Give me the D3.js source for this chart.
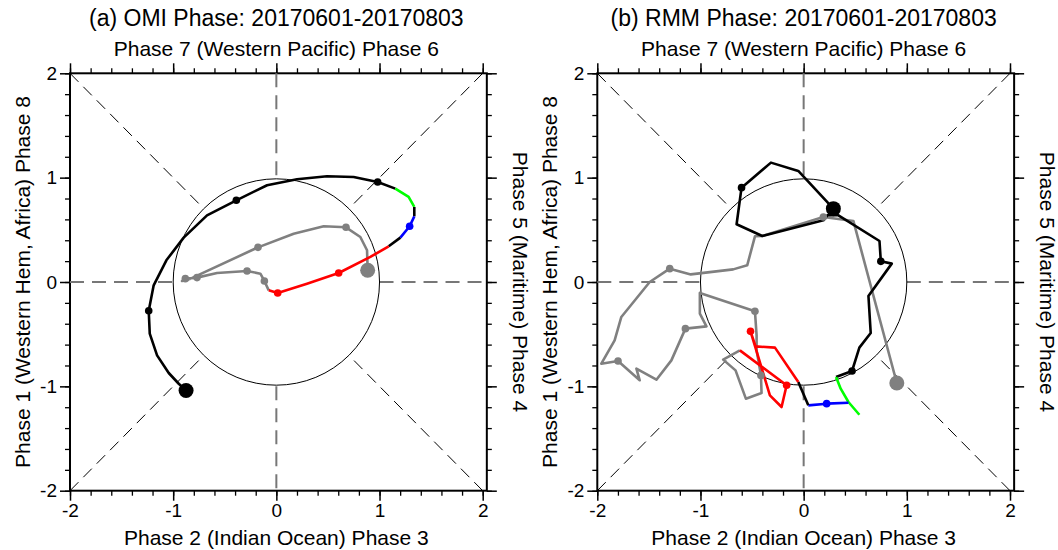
<!DOCTYPE html>
<html>
<head>
<meta charset="utf-8">
<script src="https://cdn.jsdelivr.net/npm/d3@7"></script>
<style>
  body { margin: 0; background: #fff; }
  text { font-family: "Liberation Sans", Arial, Helvetica, sans-serif; fill: #000; }
</style>
</head>
<body>
<div id="chart"></div>
<script>
// tick values
let majorTicks = [-2, -1, 0, 1, 2];
let minorTicks = d3.range(-2, 2.01, 0.2).map((d) => +d.toFixed(1));

// (a) OMI trajectory, one array per coloured piece
let omiBlack1 = [[-0.875,-1.04],[-0.946,-0.975],[-1.043,-0.872],[-1.156,-0.703],[-1.227,-0.495],[-1.237,-0.275],[-1.189,-0.032],[-1.066,0.208],[-0.898,0.425],[-0.672,0.639],[-0.388,0.783],[-0.09,0.927],[0.2,0.984],[0.491,1.013],[0.749,1.006],[0.982,0.958],[1.153,0.895]];
let omiGreen = [[1.153,0.895],[1.282,0.815],[1.337,0.719]];
let omiBlack2 = [[1.337,0.719],[1.337,0.629]];
let omiBlue = [[1.337,0.629],[1.292,0.534],[1.202,0.425]];
let omiBlack3 = [[1.202,0.425],[1.089,0.342]];
let omiRed = [[1.089,0.342],[0.911,0.24],[0.604,0.086],[0.297,-0.016],[0.013,-0.105],[-0.074,-0.08]];
let omiGray = [[-0.074,-0.08],[-0.116,0.01],[-0.155,0.08],[-0.284,0.105],[-0.575,0.086],[-0.769,0.042],[-0.882,0.032],[-0.914,0.01],[-0.831,0.032],[-0.178,0.332],[0.168,0.463],[0.459,0.534],[0.675,0.524],[0.814,0.431],[0.879,0.304],[0.885,0.112]];
let omiBlackDots = [[-1.237,-0.275],[-0.388,0.783],[0.982,0.958]];
let omiBlueDots = [[1.292,0.534]];
let omiRedDots = [[0.604,0.086],[0.013,-0.105]];
let omiGrayDots = [[-0.116,0.01],[-0.284,0.105],[-0.769,0.042],[-0.882,0.032],[-0.178,0.332],[0.675,0.524]];
let omiStart = [-0.875,-1.04];
let omiEnd = [0.885,0.112];

// (b) RMM trajectory
let rmmBlack1 = [[0.288,0.703],[-0.052,1.064],[-0.317,1.144],[-0.602,0.904],[-0.65,0.553],[-0.401,0.441],[0.191,0.591],[0.23,0.639],[0.337,0.639],[0.735,0.393],[0.748,0.198],[0.854,0.176],[0.628,-0.134],[0.65,-0.489],[0.54,-0.629],[0.469,-0.853],[0.314,-0.911]];
let rmmGreen = [[0.314,-0.911],[0.359,-1.022],[0.434,-1.15],[0.54,-1.272]];
let rmmBlue = [[0.434,-1.157],[0.223,-1.166],[0.045,-1.182]];
let rmmBlack2 = [[0.045,-1.182],[-0.052,-0.958]];
let rmmRed = [[-0.052,-0.958],[-0.278,-0.629],[-0.466,-0.617],[-0.515,-0.473],[-0.327,-1.086],[-0.214,-1.198],[-0.165,-0.99],[-0.618,-0.655]];
let rmmGray = [[-0.618,-0.655],[-0.78,-0.744],[-0.66,-0.847],[-0.56,-1.118],[-0.408,-1.064],[-0.414,-0.895],[-0.456,-0.655],[-0.456,-0.511],[-0.472,-0.281],[-1.006,-0.105],[-1.006,-0.304],[-0.942,-0.425],[-1.146,-0.447],[-1.282,-0.751],[-1.427,-0.936],[-1.621,-0.831],[-1.589,-0.942],[-1.799,-0.757],[-1.961,-0.783],[-1.832,-0.559],[-1.767,-0.335],[-1.492,0],[-1.298,0.128],[-1.094,0.073],[-0.683,0.121],[-0.547,0.16],[-0.472,0.438],[-0.401,0.441],[0.191,0.623],[0.482,0.585],[0.903,-0.968]];
let rmmBlackDots = [[-0.602,0.904],[0.748,0.198],[0.469,-0.853]];
let rmmBlueDots = [[0.223,-1.166]];
let rmmRedDots = [[-0.515,-0.473],[-0.165,-0.99]];
let rmmGrayDots = [[-0.414,-0.895],[-0.472,-0.281],[-1.146,-0.447],[-1.799,-0.757],[-1.298,0.128],[0.191,0.623]];
let rmmStart = [0.288,0.703];
let rmmEnd = [0.903,-0.968];

let svg = d3.select("#chart").append("svg").attr("width", 1058).attr("height", 550);

function drawPanel(left, title, pieces, dots, start, end) {
  let size = 412.7;
  let top = 73.3, bottom = 490.7;
  let x = d3.scaleLinear().domain([-2, 2]).range([left, left + size]);
  let y = d3.scaleLinear().domain([-2, 2]).range([bottom, top]);
  let g = svg.append("g");
  let cx = x(0);

  // frame
  g.append("rect")
    .attr("x", x(-2)).attr("y", y(2))
    .attr("width", x(2.04) - x(-2)).attr("height", y(-2) - y(2))
    .attr("fill", "none").attr("stroke", "#000").attr("stroke-width", 2);

  let fmt = (d) => String(d);
  let axes = [
    [d3.axisBottom(x), "translate(0," + y(-2) + ")", true],
    [d3.axisTop(x), "translate(0," + y(2) + ")", false],
    [d3.axisLeft(y), "translate(" + x(-2) + ",0)", true],
    [d3.axisRight(y), "translate(" + x(2.04) + ",0)", false],
  ];
  axes.forEach(([ax, tr, labels]) => {
    let minor = g.append("g").attr("transform", tr)
      .call(ax.tickValues(minorTicks).tickSize(5).tickFormat(""));
    minor.select(".domain").remove();
    minor.selectAll("line").attr("stroke-width", 1.3);
    let major = g.append("g").attr("transform", tr)
      .call(ax.tickValues(majorTicks).tickSize(10).tickPadding(3).tickFormat(labels ? fmt : ""));
    major.select(".domain").remove();
    major.selectAll("line").attr("stroke-width", 1.5);
    major.selectAll("text").style("font-size", "19px").attr("fill", "#000");
  });

  // phase diagram background
  let r = 1 / Math.SQRT2;
  [[-2, 2, -r, r], [2, 2, r, r], [-2, -2, -r, -r], [2, -2, r, -r]].forEach((p) => {
    g.append("line")
      .attr("x1", x(p[0])).attr("y1", y(p[1])).attr("x2", x(p[2])).attr("y2", y(p[3]))
      .attr("stroke", "#000").attr("stroke-width", 1).attr("stroke-dasharray", "12,7");
  });
  [[-2, 0, -1, 0], [1, 0, 2.04, 0], [0, 2, 0, 1], [0, -1, 0, -2]].forEach((p) => {
    g.append("line")
      .attr("x1", x(p[0])).attr("y1", y(p[1])).attr("x2", x(p[2])).attr("y2", y(p[3]))
      .attr("stroke", "#777").attr("stroke-width", 2).attr("stroke-dasharray", "14,8");
  });
  g.append("circle")
    .attr("cx", cx).attr("cy", y(0)).attr("r", x(1) - x(0))
    .attr("fill", "none").attr("stroke", "#000").attr("stroke-width", 1);

  // trajectory
  let line = d3.line().x((d) => x(d[0])).y((d) => y(d[1]));
  pieces.forEach(([pts, col]) => {
    g.append("path").datum(pts).attr("d", line)
      .attr("fill", "none").attr("stroke", col).attr("stroke-width", 2.6)
      .attr("stroke-linejoin", "round");
  });
  dots.forEach(([pts, col]) => {
    g.selectAll(null).data(pts).enter().append("circle")
      .attr("cx", (d) => x(d[0])).attr("cy", (d) => y(d[1])).attr("r", 3.8).attr("fill", col);
  });
  g.append("circle").attr("cx", x(start[0])).attr("cy", y(start[1])).attr("r", 7.5).attr("fill", "#000");
  g.append("circle").attr("cx", x(end[0])).attr("cy", y(end[1])).attr("r", 7.5).attr("fill", "#808080");

  // texts
  g.append("text").attr("x", cx).attr("y", 26).attr("text-anchor", "middle")
    .style("font-size", "23px").text(title);
  g.append("text").attr("x", cx).attr("y", 56).attr("text-anchor", "middle")
    .style("font-size", "21px").text("Phase 7 (Western Pacific) Phase 6");
  g.append("text").attr("x", cx).attr("y", 545).attr("text-anchor", "middle")
    .style("font-size", "21px").text("Phase 2 (Indian Ocean) Phase 3");
  g.append("text")
    .attr("transform", "translate(" + (left - 40) + "," + y(0) + ") rotate(-90)")
    .attr("text-anchor", "middle").style("font-size", "21px")
    .text("Phase 1 (Western Hem, Africa) Phase 8");
  g.append("text")
    .attr("transform", "translate(" + (left + size + 30) + "," + y(0) + ") rotate(90)")
    .attr("text-anchor", "middle").style("font-size", "21px")
    .text("Phase 5 (Maritime) Phase 4");
}

drawPanel(70, "(a) OMI Phase: 20170601-20170803",
  [[omiGray, "#808080"], [omiBlack1, "#000"], [omiGreen, "#00ff00"], [omiBlack2, "#000"],
   [omiBlue, "#0000ff"], [omiBlack3, "#000"], [omiRed, "#ff0000"]],
  [[omiBlackDots, "#000"], [omiBlueDots, "#0000ff"], [omiRedDots, "#ff0000"], [omiGrayDots, "#808080"]],
  omiStart, omiEnd);

drawPanel(597.3, "(b) RMM Phase: 20170601-20170803",
  [[rmmGray, "#808080"], [rmmBlack1, "#000"], [rmmGreen, "#00ff00"], [rmmBlue, "#0000ff"],
   [rmmBlack2, "#000"], [rmmRed, "#ff0000"]],
  [[rmmBlackDots, "#000"], [rmmBlueDots, "#0000ff"], [rmmRedDots, "#ff0000"], [rmmGrayDots, "#808080"]],
  rmmStart, rmmEnd);
</script>
</body>
</html>
